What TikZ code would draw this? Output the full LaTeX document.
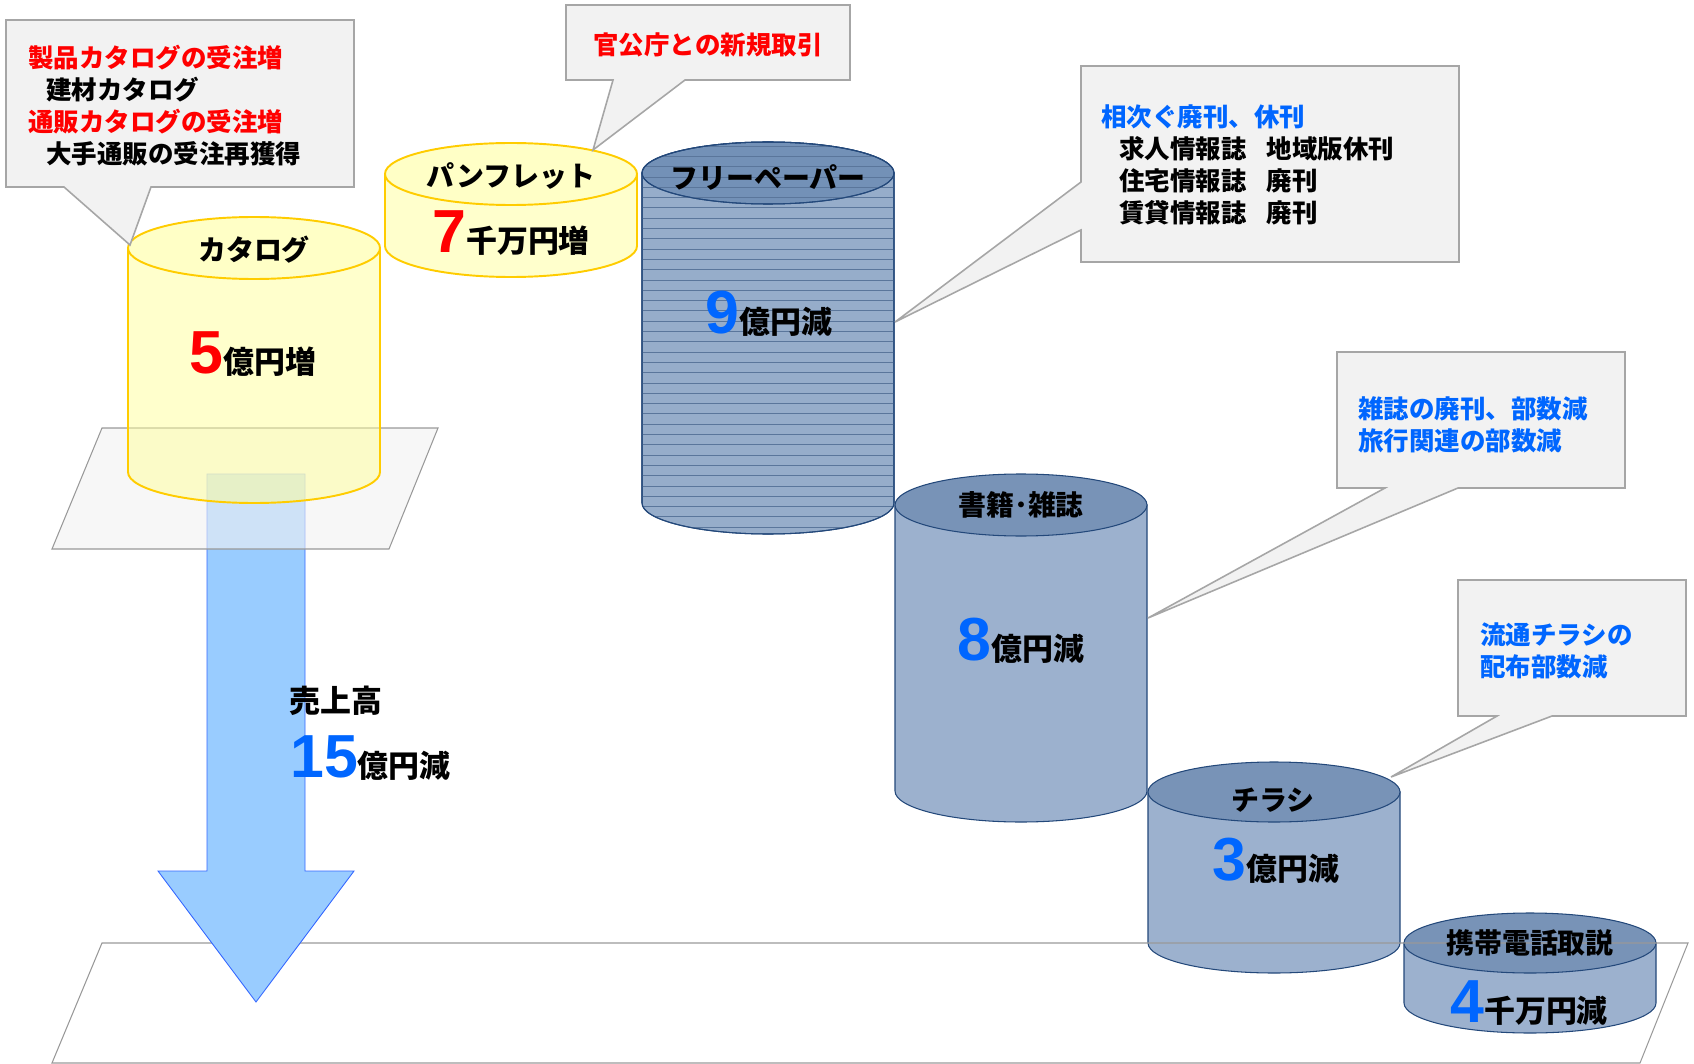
\documentclass[tikz,border=0pt]{standalone}
\usepackage{fontspec}
\setmainfont{Noto Sans CJK JP}
\newfontfamily\numfont{Liberation Sans}
\usepackage{tikz}
\usetikzlibrary{calc}

\definecolor{cylyellow}{HTML}{FFFF99}
\definecolor{cylyellowtop}{HTML}{FFFFC6}
\definecolor{cylgold}{HTML}{FFCC00}
\definecolor{cylblue}{HTML}{9CB1CE}
\definecolor{cylbluetop}{HTML}{7893B7}
\definecolor{freeblue}{HTML}{96ADCA}
\definecolor{freebluetop}{HTML}{7391B7}
\definecolor{cylnavy}{HTML}{23487A}
\definecolor{calloutfill}{HTML}{F2F2F2}
\definecolor{calloutline}{HTML}{A6A6A6}
\definecolor{arrowfill}{HTML}{99CCFF}
\definecolor{arrowline}{HTML}{3366FF}
\definecolor{numred}{HTML}{FF0000}
\definecolor{numblue}{HTML}{0066FF}

\newcommand{\bignum}[1]{{\numfont\bfseries\fontsize{34.6}{40}\selectfont #1}}

\begin{document}
\begin{tikzpicture}
			[x=0.2mm, y=-0.2mm,
			yellowcyl/.style={fill=cylyellow, fill opacity=0.5, draw=cylgold, line width=1.1pt},
			yellowtop/.style={fill=cylyellowtop, draw=cylgold, line width=1.1pt},
			bluecyl/.style={fill=cylblue, draw=cylnavy, line width=0.6pt},
			bluetop/.style={fill=cylbluetop, draw=cylnavy, line width=0.6pt},
			callout/.style={fill=calloutfill, draw=calloutline, line width=0.9pt},
			plane/.style={draw=gray!80, line width=0.6pt},
			cyltitle/.style={inner sep=0pt, font={\fontsize{15.9}{19}\selectfont\bfseries}},
			amount/.style={anchor=base west, inner sep=0pt, font={\fontsize{17.6}{21}\selectfont\bfseries}},
			calltext/.style={anchor=west, align=left, inner sep=0pt, font={\fontsize{14.5}{18.1}\selectfont\bfseries}}]
			\useasboundingbox (0,0) rectangle (1694,1064);

			% blue cylinders %
			\filldraw[bluecyl, fill=freeblue] (642,173) -- (642,503) arc[start angle=180, end angle=0, x radius=126, y radius=31] -- (894,173) -- cycle;
			\filldraw[bluetop, fill=freebluetop] (768,173) ellipse [x radius=126, y radius=31];
			\begin{scope}
				\clip (642,173) -- (642,503) arc[start angle=180, end angle=0, x radius=126, y radius=31] -- (894,173) arc[start angle=0, end angle=-180, x radius=126, y radius=31] -- cycle;
				\foreach \ly in {146,156.3,...,536}
					\draw[cylnavy!75, line width=0.35pt] (642,\ly) -- (894,\ly);
			\end{scope}
			\draw[cylnavy, line width=0.6pt] (642,173) -- (642,503) arc[start angle=180, end angle=0, x radius=126, y radius=31] -- (894,173) arc[start angle=0, end angle=-180, x radius=126, y radius=31];
			\draw[cylnavy, line width=0.6pt] (768,173) ellipse [x radius=126, y radius=31];

			\filldraw[bluecyl] (895,505) -- (895,791) arc[start angle=180, end angle=0, x radius=126, y radius=31] -- (1147,505) -- cycle;
			\filldraw[bluetop] (1021,505) ellipse [x radius=126, y radius=31];

			\filldraw[bluecyl] (1148,792) -- (1148,943) arc[start angle=180, end angle=0, x radius=126, y radius=30] -- (1400,792) -- cycle;
			\filldraw[bluetop] (1274,792) ellipse [x radius=126, y radius=30];

			\filldraw[bluecyl] (1404,943) -- (1404,1003) arc[start angle=180, end angle=0, x radius=126, y radius=30] -- (1656,943) -- cycle;
			\filldraw[bluetop] (1530,943) ellipse [x radius=126, y radius=30];

			% lower plane and arrow %
			\draw[plane] (102,943) -- (1688,943) -- (1640,1063) -- (52,1063) -- cycle;
			\filldraw[fill=arrowfill, draw=arrowline, line width=0.5pt] (207,474) -- (305,474) -- (305,871) -- (354,871) -- (256,1002) -- (158,871) -- (207,871) -- cycle;

			% upper plane %
			\filldraw[plane, fill=calloutfill, fill opacity=0.6] (102,428) -- (438,428) -- (389,549) -- (52,549) -- cycle;

			% yellow cylinders %
			\filldraw[yellowcyl] (128,248) -- (128,472) arc[start angle=180, end angle=0, x radius=126, y radius=31] -- (380,248) -- cycle;
			\filldraw[yellowtop] (254,248) ellipse [x radius=126, y radius=31];
			\filldraw[yellowcyl] (385,174) -- (385,246) arc[start angle=180, end angle=0, x radius=126, y radius=31] -- (637,174) -- cycle;
			\filldraw[yellowtop] (511,174) ellipse [x radius=126, y radius=31];

			% callouts %
			\filldraw[callout] (6,20) -- (354,20) -- (354,187) -- (151,187) -- (130,245) -- (64,187) -- (6,187) -- cycle;
			\filldraw[callout] (566,5) -- (850,5) -- (850,80) -- (685,80) -- (593,150) -- (613,80) -- (566,80) -- cycle;
			\filldraw[callout] (1081,66) -- (1459,66) -- (1459,262) -- (1081,262) -- (1081,230) -- (895,322) -- (1081,182) -- cycle;
			\filldraw[callout] (1337,352) -- (1625,352) -- (1625,488) -- (1458,488) -- (1148,618) -- (1385,488) -- (1337,488) -- cycle;
			\filldraw[callout] (1458,580) -- (1686,580) -- (1686,716) -- (1552,716) -- (1391,777) -- (1497,716) -- (1458,716) -- cycle;

			% cylinder labels %
			\node[cyltitle] (cattitle) at (254,250) {カタログ};
			\node[cyltitle] (pamtitle) at (511,176) {パンフレット};
			\node[cyltitle] (freetitle) at (768,177) {フリーペーパー};
			\node[cyltitle] (booktitle) at (1021,505) {書籍･雑誌};
			\node[cyltitle] (flytitle) at (1273,800) {チラシ};
			\node[cyltitle] (mobtitle) at (1530,943) {携帯電話取説};

			% amounts %
			\node[amount] (catamount) at (189,373) {\textcolor{numred}{\bignum{5}}億円増};
			\node[amount] (pamamount) at (432,253) {\textcolor{numred}{\bignum{7}}千万円増};
			\node[amount] (freeamount) at (705,333) {\textcolor{numblue}{\bignum{9}}億円減};
			\node[amount] (bookamount) at (957,660) {\textcolor{numblue}{\bignum{8}}億円減};
			\node[amount] (flyamount) at (1212,880) {\textcolor{numblue}{\bignum{3}}億円減};
			\node[amount] (mobamount) at (1450,1022) {\textcolor{numblue}{\bignum{4}}千万円減};
			\node[amount, anchor=west] (salestitle) at (289,701) {売上高};
			\node[amount] (salesamount) at (290,777) {\textcolor{numblue}{\bignum{15}}億円減};

			% callout texts %
			\node[calltext] (catnote) at (28,105.5) {\textcolor{numred}{製品カタログの受注増}\\\hspace*{3.6mm}建材カタログ\\\textcolor{numred}{通販カタログの受注増}\\\hspace*{3.6mm}大手通販の受注再獲得};
			\node[calltext, anchor=center, text=numred] (pamnote) at (708,45) {官公庁との新規取引};
			\node[calltext] (freenote) at (1101,165) {\textcolor{numblue}{相次ぐ廃刊、休刊}\\\hspace*{3.6mm}求人情報誌\hspace{4mm}地域版休刊\\\hspace*{3.6mm}住宅情報誌\hspace{4mm}廃刊\\\hspace*{3.6mm}賃貸情報誌\hspace{4mm}廃刊};
			\node[calltext, text=numblue] (booknote) at (1358,425) {雑誌の廃刊、部数減\\旅行関連の部数減};
			\node[calltext, text=numblue] (flynote) at (1480,651) {流通チラシの\\配布部数減};
			\end{tikzpicture}
\end{document}
